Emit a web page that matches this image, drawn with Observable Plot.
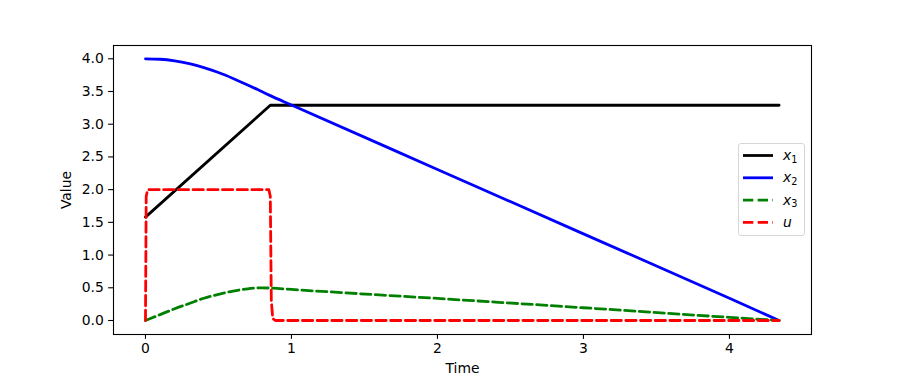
<!DOCTYPE html>
<html>
<head>
<meta charset="utf-8">
<script src="https://cdn.jsdelivr.net/npm/d3@7"></script>
<script src="https://cdn.jsdelivr.net/npm/@observablehq/plot@0.6"></script>
<style>
  html, body { margin: 0; padding: 0; background: white; }
  #wrap { position: relative; width: 901px; height: 375px; }
  #legend { position: absolute; left: 738px; top: 143px; width: 65px; height: 91px;
    border: 1px solid #d6d6d6; border-radius: 3px; background: rgba(255,255,255,0.8); }
</style>
</head>
<body>
<div id="wrap"></div>
<script>
// ---- data ----
const timeX1 = [0, 0.855, 4.34];
const x1Vals = [1.58, 3.29, 3.29];

const timeS = [0, 0.1, 0.2, 0.3, 0.4, 0.5, 0.6, 0.7, 0.8, 0.855, 1, 2, 3, 4, 4.34];
const x2Vals = [4.0, 3.993, 3.968, 3.925, 3.865, 3.79, 3.70, 3.60, 3.495, 3.437, 3.294, 2.309, 1.324, 0.339, 0.0];
const x3Vals = [0, 0.09, 0.18, 0.26, 0.34, 0.40, 0.45, 0.485, 0.50, 0.495, 0.474, 0.337, 0.195, 0.048, 0.0];

const timeU = [0, 0.005, 0.015, 0.845, 0.855, 0.862, 0.872, 0.89, 4.34];
const uVals = [0, 1.9, 2, 2, 1.9, 0.3, 0.03, 0, 0];

const xTicks = [0, 1, 2, 3, 4];
const yTicks = [0, 0.5, 1, 1.5, 2, 2.5, 3, 3.5, 4];

const seriesNames = ["x1", "x2", "x3", "u"];
const seriesColors = ["black", "blue", "green", "red"];
const seriesDashed = [false, false, true, true];

// ---- build tables ----
const tX1 = timeX1.map((t, i) => ({t, v: x1Vals[i]}));
const tX2 = timeS.map((t, i) => ({t, v: x2Vals[i]}));
const tX3 = timeS.map((t, i) => ({t, v: x3Vals[i]}));
const tU = timeU.map((t, i) => ({t, v: uVals[i]}));

const lw = 2.78;
const dash = "10.3,4.4";

const chart = Plot.plot({
  width: 901,
  height: 375,
  marginLeft: 113,
  marginRight: 90,
  marginTop: 45,
  marginBottom: 41,
  style: {fontFamily: "DejaVu Sans", fontSize: "13.9px", color: "black", background: "white"},
  x: {domain: [-0.219, 4.562]},
  y: {domain: [-0.214, 4.203]},
  marks: [
    Plot.axisX({ticks: xTicks, tickFormat: d => String(d), tickSize: 4.86, tickPadding: 4, strokeWidth: 1.1, label: null}),
    Plot.axisY({ticks: yTicks, tickFormat: d => d.toFixed(1), tickSize: 4.86, tickPadding: 4.86, strokeWidth: 1.1, label: null}),
    Plot.line(tX1, {x: "t", y: "v", stroke: seriesColors[0], strokeWidth: lw}),
    Plot.line(tX2, {x: "t", y: "v", stroke: seriesColors[1], strokeWidth: lw, curve: "monotone-x"}),
    Plot.line(tX3, {x: "t", y: "v", stroke: seriesColors[2], strokeWidth: lw, strokeDasharray: dash, curve: "monotone-x"}),
    Plot.line(tU, {x: "t", y: "v", stroke: seriesColors[3], strokeWidth: lw, strokeDasharray: dash}),
    Plot.frame({stroke: "black", strokeWidth: 1.1}),
    Plot.text(["Time"], {frameAnchor: "bottom", dy: 34, lineAnchor: "middle", textAnchor: "middle", fontSize: 13.9}),
    Plot.text(["Value"], {frameAnchor: "left", dx: -47, rotate: -90, lineAnchor: "middle", textAnchor: "middle", fontSize: 13.9})
  ]
});

const wrap = document.getElementById("wrap");
wrap.appendChild(chart);

// ---- legend ----
const legend = document.createElement("div");
legend.id = "legend";
const ns = "http://www.w3.org/2000/svg";
const lsvg = document.createElementNS(ns, "svg");
lsvg.setAttribute("width", 65);
lsvg.setAttribute("height", 91);
lsvg.style.position = "absolute";
lsvg.style.left = "0px";
lsvg.style.top = "0px";
lsvg.style.fontFamily = "DejaVu Sans";
seriesNames.forEach((name, i) => {
  const y = 11.5 + i * 22.3;
  const line = document.createElementNS(ns, "line");
  line.setAttribute("x1", 4);
  line.setAttribute("x2", 34);
  line.setAttribute("y1", y);
  line.setAttribute("y2", y);
  line.setAttribute("stroke", seriesColors[i]);
  line.setAttribute("stroke-width", lw);
  if (seriesDashed[i]) line.setAttribute("stroke-dasharray", dash);
  lsvg.appendChild(line);
  const text = document.createElementNS(ns, "text");
  text.setAttribute("x", 44);
  text.setAttribute("y", y + 4.5);
  text.setAttribute("font-size", 13.9);
  const base = document.createElementNS(ns, "tspan");
  base.setAttribute("font-style", "italic");
  base.textContent = name[0];
  text.appendChild(base);
  if (name.length > 1) {
    const sub = document.createElementNS(ns, "tspan");
    sub.setAttribute("font-size", 9.7);
    sub.setAttribute("dy", 2.5);
    sub.textContent = name.slice(1);
    text.appendChild(sub);
  }
  lsvg.appendChild(text);
});
legend.appendChild(lsvg);
wrap.appendChild(legend);
</script>
</body>
</html>
